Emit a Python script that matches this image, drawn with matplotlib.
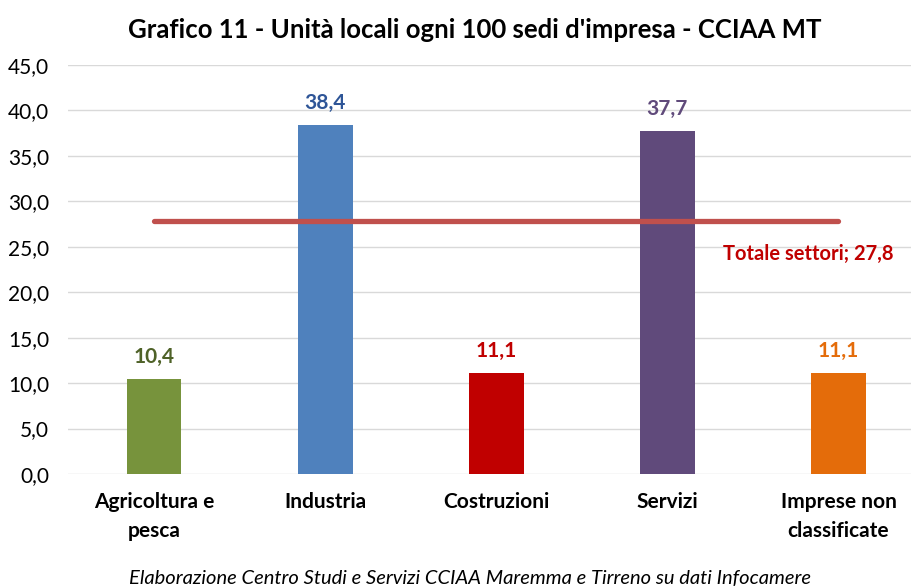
import matplotlib
matplotlib.use('agg')

import matplotlib.pyplot as plt
import numpy as np


# data
categories = ['Agricoltura e\npesca', 'Industria', 'Costruzioni', 'Servizi', 'Imprese non\nclassificate']
values = [10.4, 38.4, 11.1, 37.7, 11.1]
totale = 27.8

bar_colors = ['#77933C', '#4F81BD', '#C00000', '#604A7B', '#E46C0A']
label_colors = ['#4F6228', '#2E5597', '#C00000', '#604A7B', '#E46C0A']

plt.rcParams['font.family'] = ['Lato', 'DejaVu Sans']

fig = plt.figure(figsize=(9.12, 5.88), dpi=100)
ax = fig.add_axes([68.5 / 912, (588 - 474) / 588, 855.5 / 912, 409 / 588])

x = np.arange(len(categories))
ax.bar(x, values, width=0.32, color=bar_colors, zorder=2)

for xi, v, col in zip(x, values, label_colors):
    ax.annotate(f'{v:.1f}'.replace('.', ','), (xi, v), xytext=(0, 9),
                textcoords='offset points', ha='center', va='bottom',
                fontsize=15, fontweight='bold', color=col)

# linea del totale settori
ax.plot([x[0], x[-1]], [totale, totale], color='#C0504D', lw=3.8,
        solid_capstyle='round', zorder=3)
ax.text(x[-1] + 0.32, totale - 3.6, f'Totale settori; {totale:.1f}'.replace('.', ','),
        ha='right', va='center', fontsize=14.5, fontweight='bold', color='#C00000')

ax.set_xlim(-0.5, len(categories) - 0.5)
ax.set_ylim(0, 45)
ax.set_yticks(np.arange(0, 46, 5))
ax.set_yticklabels([f'{t:.1f}'.replace('.', ',') for t in np.arange(0, 46, 5)])
ax.set_xticks(x)
ax.set_xticklabels(categories, fontweight='bold', fontsize=15, linespacing=1.55)

ax.grid(axis='y', color='#D9D9D9', lw=1, zorder=0)
for s in ax.spines.values():
    s.set_visible(False)
ax.tick_params(axis='both', length=0)
ax.tick_params(axis='y', labelsize=15, pad=14)
ax.tick_params(axis='x', pad=13)

fig.text(475 / 912, 1 - 30 / 588, "Grafico 11 - Unità locali ogni 100 sedi d'impresa - CCIAA MT",
         ha='center', va='center', fontsize=18.5, fontweight='bold')
fig.text(470 / 912, 1 - 578 / 588,
         'Elaborazione Centro Studi e Servizi CCIAA Maremma e Tirreno su dati Infocamere',
         ha='center', va='center', fontsize=14.5, style='italic')

fig.savefig('out.png', dpi=100)
